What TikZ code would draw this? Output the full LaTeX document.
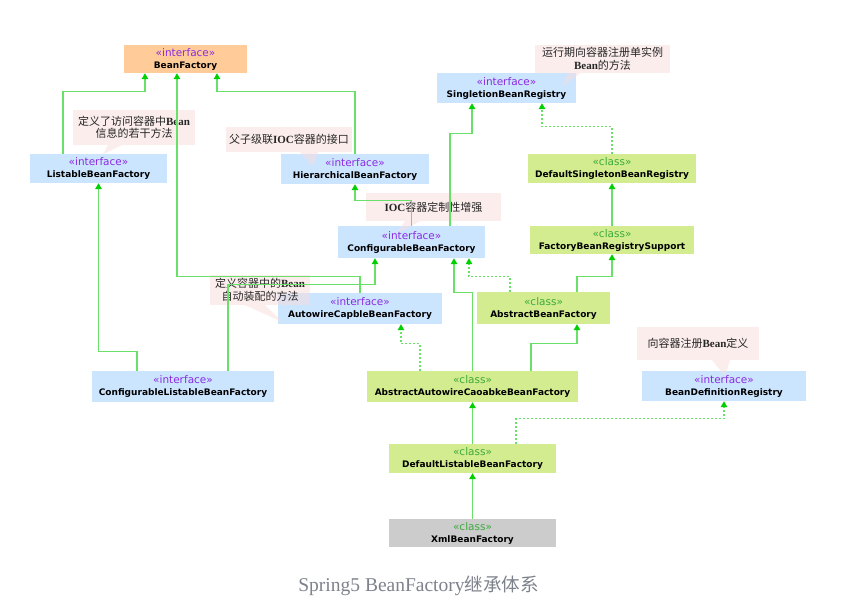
\documentclass[tikz,border=0pt]{standalone}
\usepackage{fontspec}
\newfontfamily\umlfont{DejaVu Sans}
\newfontfamily\cjkfont{Noto Sans CJK SC}
\newfontfamily\serffont{Liberation Serif}
\usetikzlibrary{arrows.meta}
\definecolor{ifill}{RGB}{204,229,255}
\definecolor{cfill}{RGB}{211,236,143}
\definecolor{bffill}{RGB}{255,204,153}
\definecolor{xfill}{RGB}{204,204,204}
\definecolor{nfill}{RGB}{251,221,221}
\definecolor{stint}{RGB}{138,43,226}
\definecolor{stcls}{RGB}{60,170,60}
\definecolor{lgreen}{RGB}{105,225,105}
\definecolor{agreen}{RGB}{0,208,0}
\definecolor{capgray}{RGB}{125,130,140}
\newcommand{\sti}{{\color{stint}\fontsize{10.5}{12}\selectfont «interface»}}
\newcommand{\stc}{{\color{stcls}\fontsize{10.5}{12}\selectfont «class»}}
\newcommand{\nm}[1]{{\bfseries #1}}
\newcommand{\lat}[1]{{\serffont\bfseries #1}}
\tikzset{
  umlbox/.style={rectangle, inner sep=0pt, align=center, font=\umlfont\fontsize{9}{12}\selectfont},
  ibox/.style={umlbox, fill=ifill},
  cbox/.style={umlbox, fill=cfill},
  notebox/.style={rectangle, inner sep=0pt, align=center, fill=nfill, fill opacity=0.5, text opacity=1, text=black!85, font=\cjkfont\fontsize{11}{12.5}\selectfont},
  notetail/.style={fill=nfill, fill opacity=0.5},
  inh/.style={draw=lgreen, line width=1.3pt, -{Triangle[width=6.5pt,length=6pt,color=agreen,fill=agreen]}},
  imp/.style={inh, dash pattern=on 2pt off 2pt}
}
\begin{document}
\begin{tikzpicture}[x=1pt,y=-1pt]
\fill[white] (0,0) rectangle (866,605);
\useasboundingbox (0,0) rectangle (866,605);

% boxes
\node[umlbox, fill=bffill, minimum width=123pt, minimum height=28pt] (bf) at (185.5,59) {\sti\\\nm{BeanFactory}};
\node[ibox, minimum width=139pt, minimum height=30pt] (sbr) at (506.5,88) {\sti\\\nm{SingletionBeanRegistry}};
\node[ibox, minimum width=137pt, minimum height=29pt] (lbf) at (98.5,168.5) {\sti\\\nm{ListableBeanFactory}};
\node[ibox, minimum width=148pt, minimum height=30pt] (hbf) at (355,169) {\sti\\\nm{HierarchicalBeanFactory}};
\node[cbox, minimum width=168pt, minimum height=29pt] (dsbr) at (612,168.5) {\stc\\\nm{DefaultSingletonBeanRegistry}};
\node[ibox, minimum width=147pt, minimum height=32pt] (cbf) at (411.5,242) {\sti\\\nm{ConfigurableBeanFactory}};
\node[cbox, minimum width=164pt, minimum height=28pt] (fbrs) at (612,240) {\stc\\\nm{FactoryBeanRegistrySupport}};
\node[ibox, minimum width=164pt, minimum height=31pt] (acbf) at (360,308.5) {\sti\\\nm{AutowireCapbleBeanFactory}};
\node[cbox, minimum width=133pt, minimum height=32pt] (abf) at (543.5,308) {\stc\\\nm{AbstractBeanFactory}};
\node[ibox, minimum width=182pt, minimum height=31pt] (clbf) at (183,386.5) {\sti\\\nm{ConfigurableListableBeanFactory}};
\node[cbox, minimum width=211pt, minimum height=31pt] (aacbf) at (472.5,386.5) {\stc\\\nm{AbstractAutowireCaoabkeBeanFactory}};
\node[ibox, minimum width=164pt, minimum height=30pt] (bdr) at (724,386) {\sti\\\nm{BeanDefinitionRegistry}};
\node[cbox, minimum width=167pt, minimum height=29pt] (dlbf) at (472.5,458.5) {\stc\\\nm{DefaultListableBeanFactory}};
\node[umlbox, fill=xfill, minimum width=167pt, minimum height=28pt] (xbf) at (472.5,533) {\stc\\\nm{XmlBeanFactory}};

% notes
\node[notebox, minimum width=122pt, minimum height=35pt] (n1) at (134,127.5) {定义了访问容器中\lat{Bean}\\信息的若干方法};
\fill[notetail] ([xshift=-26pt]n1.south) -- ([xshift=-12pt]n1.south) -- ([xshift=-31pt,yshift=-9pt]n1.south) -- cycle;
\node[notebox, minimum width=126pt, minimum height=25pt] (n2) at (289,139.5) {父子级联\lat{IOC}容器的接口};
\fill[notetail] ([xshift=11pt]n2.south) -- ([xshift=29pt]n2.south) -- ([xshift=24pt,yshift=-14pt]n2.south) -- cycle;
\node[notebox, minimum width=135pt, minimum height=28pt] (n3) at (602.5,59) {运行期向容器注册单实例\\\lat{Bean}的方法};
\fill[notetail] ([xshift=-34.5pt]n3.south) -- ([xshift=-22.5pt]n3.south) -- ([xshift=-40pt,yshift=-13pt]n3.south) -- cycle;
\node[notebox, minimum width=135pt, minimum height=28pt] (n4) at (433.5,207) {\lat{IOC}容器定制性增强};
\fill[notetail] ([xshift=-28.5pt]n4.south) -- ([xshift=-13.5pt]n4.south) -- ([xshift=-36.5pt,yshift=-12pt]n4.south) -- cycle;
\node[notebox, minimum width=100pt, minimum height=30pt] (n5) at (260,290) {定义容器中的\lat{Bean}\\自动装配的方法};
\fill[notetail] ([xshift=-15pt]n5.south) -- ([xshift=5pt]n5.south) -- ([xshift=23pt,yshift=-17pt]n5.south) -- cycle;
\node[notebox, minimum width=122pt, minimum height=33pt] (n6) at (698,343.5) {向容器注册\lat{Bean}定义};
\fill[notetail] ([xshift=14pt]n6.south) -- ([xshift=32pt]n6.south) -- ([xshift=27pt,yshift=-16pt]n6.south) -- cycle;

% connectors
\draw[inh] ([xshift=-35.5pt]lbf.north) -- ++(0,-62) -| ([xshift=-40.5pt]bf.south);
\draw[inh] (hbf.north) -- ++(0,-62) -| ([xshift=31.5pt]bf.south);
\draw[inh] (acbf.north) -- ++(0,-16) -| ([xshift=-8.5pt]bf.south);
\draw[inh] ([xshift=-46pt]clbf.north) -- ++(0,-19) -| (lbf.south);
\draw[inh] ([xshift=45pt]clbf.north) -- ++(0,-86) -| ([xshift=-36.5pt]cbf.south);
\draw[inh] (cbf.north) -- ++(0,-25) -| (hbf.south);
\draw[inh] ([xshift=38.5pt]cbf.north) -- ++(0,-92) -| ([xshift=-34.5pt]sbr.south);
\draw[imp] (dsbr.north) -- ++(0,-27) -| ([xshift=35.5pt]sbr.south);
\draw[inh] (fbrs.north) -- (dsbr.south);
\draw[inh] ([xshift=33.5pt]abf.north) -- ++(0,-15) -| (fbrs.south);
\draw[imp] ([xshift=-33.5pt]abf.north) -- ++(0,-15) -| ([xshift=57.5pt]cbf.south);
\draw[inh] (aacbf.north) -- ++(0,-78) -| ([xshift=42.5pt]cbf.south);
\draw[imp] ([xshift=-52.5pt]aacbf.north) -- ++(0,-27) -| ([xshift=41pt]acbf.south);
\draw[inh] ([xshift=58.5pt]aacbf.north) -- ++(0,-27) -| ([xshift=33.5pt]abf.south);
\draw[inh] (dlbf.north) -- (aacbf.south);
\draw[imp] ([xshift=43.5pt]dlbf.north) -- ++(0,-25) -| (bdr.south);
\draw[inh] (xbf.north) -- (dlbf.south);

% caption
\node[anchor=base, text=capgray, inner sep=0pt] (cap) at (418.5,591) {\serffont\fontsize{19.5}{22}\selectfont Spring5 BeanFactory\cjkfont\fontsize{18.5}{22}\selectfont 继承体系};
\end{tikzpicture}
\end{document}
